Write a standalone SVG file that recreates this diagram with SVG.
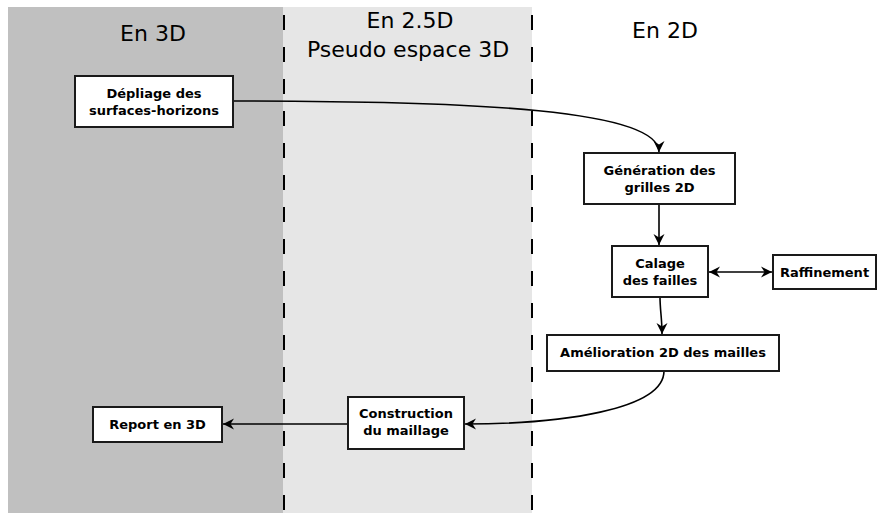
<svg xmlns="http://www.w3.org/2000/svg" width="878" height="514" viewBox="0 0 878 514">
<style>
.title{font-family:"DejaVu Sans","Liberation Sans",sans-serif;font-size:22px;fill:#000;text-anchor:middle}
.lbl{font-family:"DejaVu Sans","Liberation Sans",sans-serif;font-size:13px;font-weight:bold;fill:#000;text-anchor:middle}
.box{fill:#fff;stroke:#1a1a1a;stroke-width:2}
.sep{stroke:#000;stroke-width:2;stroke-dasharray:15,17;fill:none}
.conn{fill:none;stroke:#000;stroke-width:1.6}
</style>
<defs>
<marker id="arr" viewBox="-12 -7 14 14" refX="0" refY="0" markerWidth="14" markerHeight="14" markerUnits="userSpaceOnUse" orient="auto-start-reverse">
<path d="M0,0 L-11,-5.5 L-7.5,0 L-11,5.5 Z" fill="#000"/>
</marker>
</defs>
<g id="background">
<rect x="8" y="7" width="275" height="506" fill="#c0c0c0"/>
<rect x="283" y="7" width="249" height="506" fill="#e6e6e6"/>
<line class="sep" x1="284" y1="15" x2="284" y2="514"/>
<line class="sep" x1="532" y1="15" x2="532" y2="514"/>
<text class="title" x="153" y="41">En 3D</text>
<text class="title" x="410" y="28">En 2.5D</text>
<text class="title" x="408" y="57">Pseudo espace 3D</text>
<text class="title" x="665" y="38">En 2D</text>
</g>
<g id="connectors">
<path class="conn" d="M233,101 C480,101 659,110 659,152" marker-end="url(#arr)"/>
<path class="conn" d="M659,204 L659,245" marker-end="url(#arr)"/>
<path class="conn" d="M709,272 L772,272" marker-start="url(#arr)" marker-end="url(#arr)"/>
<path class="conn" d="M660,297 C660,310 662,318 662,334" marker-end="url(#arr)"/>
<path class="conn" d="M664,371 C664,410 560,424 465,424" marker-end="url(#arr)"/>
<path class="conn" d="M348,424 L223,424" marker-end="url(#arr)"/>
</g>
<g id="depliage">
<rect class="box" x="75" y="76" width="158" height="51"/>
<text class="lbl" x="154" y="98">Dépliage des</text>
<text class="lbl" x="154" y="115">surfaces-horizons</text>
</g>
<g id="generation">
<rect class="box" x="584" y="153" width="151" height="51"/>
<text class="lbl" x="659.5" y="175">Génération des</text>
<text class="lbl" x="659.5" y="192">grilles 2D</text>
</g>
<g id="calage">
<rect class="box" x="612" y="246" width="96" height="51"/>
<text class="lbl" x="660" y="268">Calage</text>
<text class="lbl" x="660" y="285">des failles</text>
</g>
<g id="raffinement">
<rect class="box" x="773" y="255" width="103" height="34"/>
<text class="lbl" x="824.5" y="277">Raffinement</text>
</g>
<g id="amelioration">
<rect class="box" x="547" y="335" width="232" height="36"/>
<text class="lbl" x="663" y="357">Amélioration 2D des mailles</text>
</g>
<g id="construction">
<rect class="box" x="348" y="397" width="116" height="52"/>
<text class="lbl" x="406" y="418">Construction</text>
<text class="lbl" x="406" y="435">du maillage</text>
</g>
<g id="report">
<rect class="box" x="93" y="407" width="129" height="35"/>
<text class="lbl" x="157.5" y="429">Report en 3D</text>
</g>
</svg>
